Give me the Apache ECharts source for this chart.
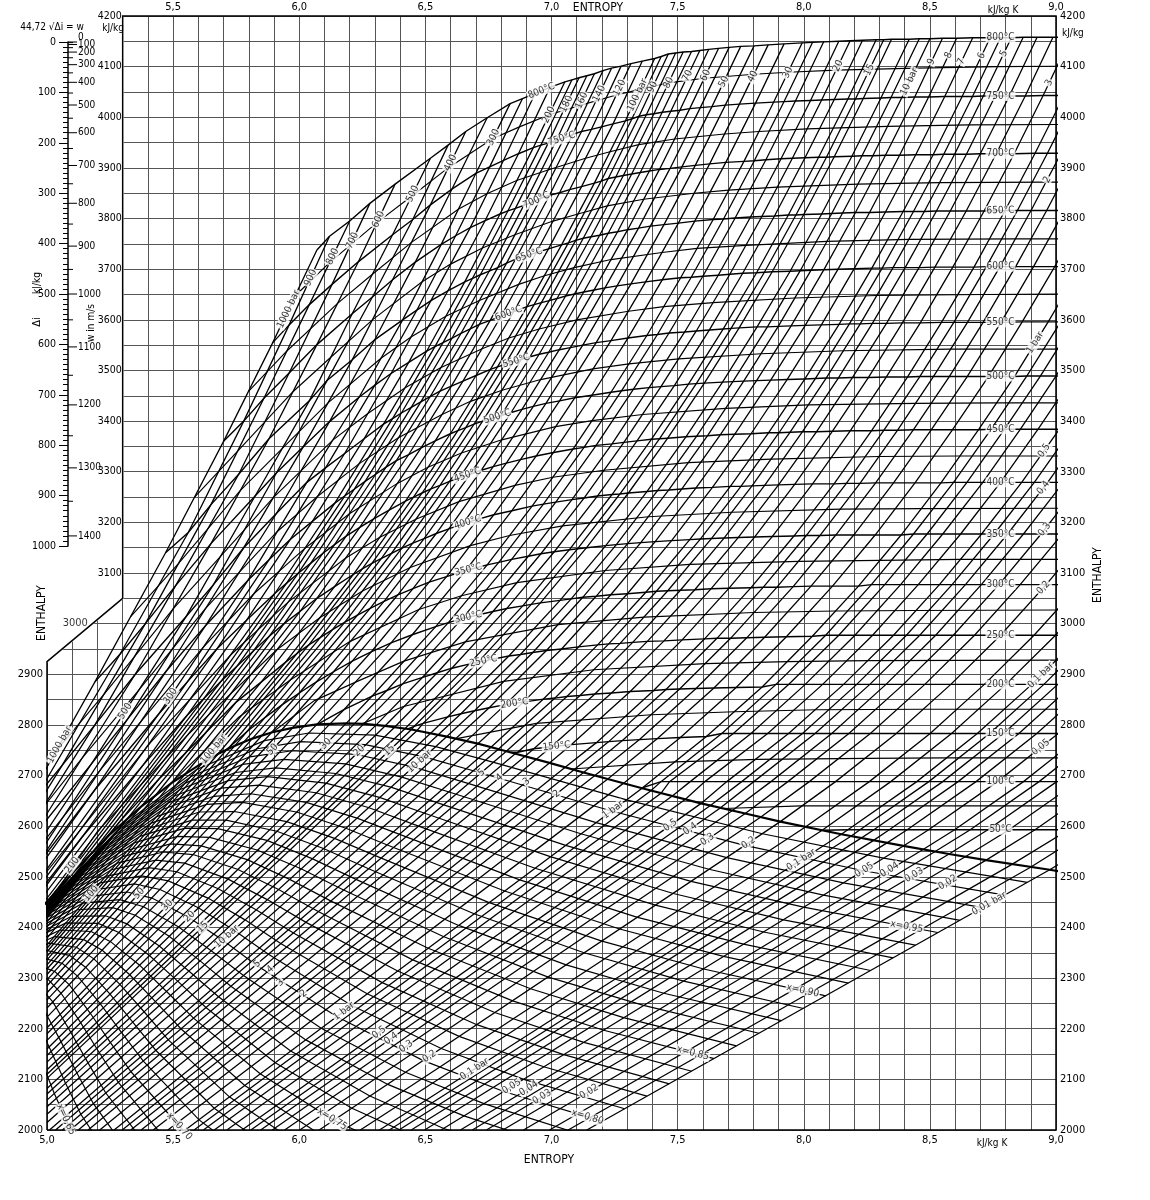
<!DOCTYPE html>
<html lang="de">
<head>
<meta charset="utf-8" />
<title>h,s-Diagramm Wasserdampf</title>
<script src="https://cdn.jsdelivr.net/npm/echarts@6/dist/echarts.min.js"></script>
<style>
  html, body { margin: 0; padding: 0; background: #fff; }
  #main { width: 1150px; height: 1200px; }
</style>
</head>
<body>
<div id="main"></div>
<script>
var _ = null;

// isotherm temperatures (°C) and their enthalpy at low pressure
var temps = [50,100,150,200,250,300,350,400,450,500,550,600,650,700,750,800];
var hIdeal = [2593,2688,2783,2880,2977,3077,3177,3279,3384,3489,3596,3705,3816,3929,4043,4159];
// point where each isotherm leaves the saturation line
var satAtT = [[8.075,2592],[7.355,2676],[6.837,2746],[6.430,2792],[6.072,2801],[5.705,2749],[5.212,2564]];

// unlabelled isotherms half way between the labelled ones: [°C, points]
var isothermsHalf = [
  [775,[[5.983,3647],[6.12,3713],[6.308,3792],[6.445,3844],[6.59,3900],[6.768,3958],[6.873,3981],[6.991,4005],[7.11,4023],[7.257,4044],[7.351,4055],[7.464,4068],[7.605,4077],[7.802,4085],[7.938,4089],[8.128,4093],[8.445,4097],[8.768,4100],[9.1,4101]]],
  [725,[[5.798,3458],[5.95,3538],[6.153,3633],[6.29,3690],[6.445,3753],[6.632,3819],[6.744,3849],[6.862,3875],[6.986,3896],[7.135,3919],[7.232,3932],[7.346,3946],[7.488,3957],[7.686,3967],[7.822,3972],[8.013,3977],[8.332,3982],[8.655,3985],[9.1,3986]]],
  [675,[[5.585,3250],[5.755,3340],[5.975,3458],[6.125,3526],[6.29,3600],[6.487,3675],[6.60,3710],[6.726,3742],[6.855,3768],[7.006,3795],[7.105,3809],[7.221,3825],[7.365,3838],[7.565,3850],[7.702,3856],[7.895,3862],[8.214,3868],[8.538,3871],[8.96,3872],[9.1,3872]]],
  [625,[[5.33,3013],[5.52,3118],[5.765,3262],[5.933,3346],[6.114,3436],[6.324,3524],[6.443,3566],[6.581,3607],[6.714,3638],[6.870,3670],[6.972,3687],[7.090,3703],[7.236,3719],[7.438,3733],[7.577,3741],[7.771,3747],[8.092,3755],[8.416,3759],[8.840,3760],[9.16,3760]]],
  [575,[[5.035,2748],[5.225,2860],[5.50,3029],[5.688,3133],[5.899,3250],[6.134,3363],[6.272,3415],[6.42,3466],[6.562,3506],[6.725,3543],[6.831,3564],[6.951,3582],[7.10,3600],[7.305,3617],[7.445,3626],[7.641,3634],[7.964,3643],[8.289,3648],[8.714,3650],[9.1,3651]]],
  [525,[[4.675,2445],[4.855,2555],[5.14,2735],[5.363,2868],[5.627,3029],[5.913,3182],[6.072,3251],[6.238,3316],[6.393,3367],[6.566,3413],[6.679,3439],[6.804,3461],[6.957,3482],[7.164,3503],[7.307,3513],[7.504,3523],[7.831,3533],[8.157,3539],[8.582,3542],[9.1,3542]]],
  [475,[[4.69,2385],[4.883,2504],[5.21,2710],[5.619,2953],[5.82,3059],[6.023,3149],[6.199,3217],[6.389,3277],[6.51,3309],[6.643,3337],[6.803,3363],[7.016,3389],[7.161,3401],[7.361,3413],[7.69,3425],[8.018,3432],[8.443,3435],[8.764,3436],[9.1,3436]]],
  [425,[[4.53,2222],[4.96,2486],[5.41,2765],[5.73,2939],[5.957,3043],[6.183,3129],[6.318,3170],[6.462,3206],[6.633,3241],[6.855,3273],[7.005,3289],[7.208,3303],[7.542,3318],[7.871,3325],[8.298,3330],[8.619,3331],[9.1,3331]]],
  [375,[[4.60,2150],[5.20,2590],[5.555,2779],[5.91,2948],[6.08,3011],[6.249,3064],[6.44,3111],[6.678,3154],[6.834,3174],[7.044,3193],[7.384,3211],[7.715,3220],[8.144,3226],[8.465,3227],[9.1,3228]]],
  [325,[[5.490,2684],[5.76,2815],[5.963,2888],[6.202,2965],[6.474,3028],[6.643,3055],[6.863,3081],[7.213,3105],[7.548,3117],[7.979,3123],[8.302,3125],[8.622,3127],[9.1,3127]]],
  [275,[[5.893,2785],[6.06,2848],[6.23,2886],[6.415,2926],[6.658,2964],[7.025,2998],[7.367,3013],[7.802,3022],[8.126,3025],[8.447,3026],[9.1,3027]]],
  [225,[[6.249,2802],[6.41,2836],[6.81,2886],[7.167,2909],[7.609,2921],[7.935,2925],[8.257,2927],[9.1,2928]]],
  [175,[[6.624,2773],[6.94,2803],[7.395,2820],[7.725,2826],[8.049,2830],[8.475,2831],[9.1,2831]]],
  [125,[[7.078,2713],[7.488,2727],[7.818,2732],[8.247,2734],[8.568,2735],[9.1,2735]]],
  [75,[[7.682,2635],[7.99,2640],[8.312,2640],[9.1,2640]]]
];

// saturation line x = 1
var satLine = [[4.928,2411],[5.106,2510],[5.246,2582],[5.372,2638],[5.493,2685],[5.616,2725],[5.679,2743],[5.745,2759],
  [5.814,2773],[5.890,2785],[5.973,2794],[6.070,2801],[6.186,2803],[6.256,2802],[6.340,2798],[6.445,2791],[6.585,2777],
  [6.708,2763],[6.821,2748],[6.992,2725],[7.127,2706],[7.359,2675],[7.593,2645],[7.768,2625],[7.907,2609],[8.149,2584],
  [8.395,2561],[8.576,2545],[8.723,2533],[8.975,2514],[9.05,2508]];

// isobars: [bar, wet end, saturation point, first temp index, s values, h values]
var isobarsHigh = [
  [1000,_,_,9,[4.47,4.88,5.19,5.47,5.70,5.895,6.07],[2280,2610,2885,3140,3360,3555,3738]],
  [900,_,_,9,[4.55,4.96,5.29,5.56,5.78,5.96,6.12],[2330,2660,2940,3180,3400,3590,3765]],
  [800,_,_,9,[4.65,5.06,5.39,5.65,5.86,6.04,6.20],[2390,2720,3000,3235,3445,3630,3795]],
  [700,_,_,9,[4.76,5.19,5.51,5.76,5.96,6.13,6.28],[2460,2800,3075,3295,3495,3670,3830]],
  [600,_,_,8,[4.45,4.93,5.35,5.65,5.88,6.07,6.235,6.38],[2200,2570,2900,3158,3365,3551,3715,3868]],
  [500,_,_,8,[4.589,5.176,5.55,5.825,6.04,6.21,6.37,6.52],[2285,2723,3013,3252,3440,3612,3768,3919]],
  [450,_,_,8,[4.75,5.32,5.66,5.91,6.11,6.29,6.45,6.59],[2380,2812,3077,3298,3480,3645,3798,3945]],
  [400,_,_,7,[4.115,4.945,5.474,5.78,6.017,6.21,6.37,6.52,6.66],[1931,2512,2907,3150,3350,3521,3679,3827,3972]],
  [350,_,_,7,[4.21,5.19,5.63,5.91,6.12,6.30,6.46,6.605,6.745],[1988,2672,2997,3218,3399,3561,3714,3858,3999]],
  [300,_,_,7,[4.473,5.442,5.796,6.03,6.237,6.41,6.563,6.70,6.836],[2151,2821,3085,3279,3447,3600,3749,3889,4027]],
  [275,_,_,7,[4.78,5.558,5.88,6.105,6.30,6.466,6.62,6.755,6.885],[2350,2886,3126,3308,3471,3619,3766,3902,4037]],
  [250,[4.80,2350],_,7,[5.140,5.675,5.964,6.180,6.364,6.522,6.678,6.81,6.935],[2579,2951,3166,3336,3494,3638,3782,3915,4047]],
  [225,[4.86,2380],_,7,[5.38,5.79,6.052,6.257,6.434,6.589,6.737,6.869,6.994],[2720,3006,3202,3365,3516,3657,3796,3928,4059]],
  [200,_,[4.928,2411],7,[5.554,5.904,6.141,6.334,6.505,6.656,6.796,6.928,7.053],[2818,3060,3238,3394,3538,3675,3809,3940,4070]]
];
var isobarsMid = [
  [190,[5.0,2450],[5.023,2465],7,[5.622,5.950,6.180,6.370,6.538,6.687,6.827,6.958,7.081],[2852,3080,3252,3405,3547,3682,3815,3945,4074]],
  [180,[5.0,2443],[5.106,2510],7,[5.69,5.995,6.219,6.405,6.570,6.718,6.857,6.987,7.109],[2886,3099,3266,3416,3555,3689,3820,3949,4078]],
  [170,[5.0,2436],[5.178,2547],7,[5.755,6.045,6.261,6.444,6.606,6.753,6.890,7.019,7.140],[2917,3119,3281,3427,3564,3696,3826,3954,4082]],
  [160,[5.0,2429],[5.246,2582],6,[5.29,5.82,6.094,6.303,6.482,6.641,6.787,6.922,7.050,7.170],[2610,2947,3139,3295,3438,3573,3703,3832,3959,4086]],
  [150,[5.0,2419],[5.311,2610],6,[5.442,5.881,6.140,6.344,6.520,6.678,6.822,6.957,7.084,7.204],[2692,2975,3156,3309,3449,3582,3712,3840,3966,4092]],
  [140,[5.0,2411],[5.372,2638],6,[5.55,5.94,6.186,6.385,6.558,6.714,6.858,6.992,7.119,7.238],[2745,3000,3173,3322,3459,3591,3720,3846,3972,4097]],
  [130,[5.0,2401],[5.432,2662],6,[5.63,6.005,6.24,6.434,6.603,6.757,6.899,7.032,7.158,7.276],[2785,3025,3190,3334,3469,3599,3726,3851,3976,4101]],
  [120,[5.0,2390],[5.493,2685],6,[5.75,6.07,6.295,6.483,6.649,6.800,6.940,7.072,7.198,7.315],[2845,3050,3207,3347,3479,3607,3733,3857,3981,4106]],
  [110,[5.0,2379],[5.553,2706],6,[5.85,6.14,6.356,6.539,6.701,6.850,6.988,7.119,7.244,7.360],[2885,3073,3224,3361,3490,3616,3740,3863,3987,4111]],
  [100,[5.0,2365],[5.616,2725],6,[5.946,6.214,6.421,6.599,6.758,6.903,7.040,7.170,7.293,7.409],[2924,3097,3242,3375,3502,3626,3748,3870,3993,4116]],
  [95,[5.0,2359],[5.648,2735],6,[5.991,6.250,6.453,6.629,6.786,6.931,7.067,7.197,7.319,7.435],[2941,3108,3250,3381,3507,3630,3752,3874,3997,4120]],
  [90,[5.0,2352],[5.679,2743],6,[6.038,6.288,6.487,6.660,6.816,6.960,7.096,7.225,7.347,7.463],[2958,3119,3258,3387,3512,3634,3757,3879,4002,4125]],
  [85,[5.0,2343],[5.712,2751],5,[5.725,6.084,6.326,6.522,6.693,6.848,6.991,7.126,7.255,7.376,7.492],[2757,2973,3129,3266,3394,3517,3638,3761,3882,4005,4127]],
  [80,[5.0,2336],[5.745,2759],5,[5.793,6.132,6.366,6.558,6.727,6.880,7.022,7.157,7.285,7.406,7.522],[2787,2988,3139,3273,3400,3522,3642,3764,3885,4007,4129]],
  [75,[5.0,2326],[5.780,2766],5,[5.865,6.181,6.407,6.596,6.763,6.915,7.056,7.191,7.318,7.439,7.555],[2815,3003,3149,3281,3405,3527,3647,3767,3888,4010,4130]],
  [70,[5.0,2318],[5.814,2773],5,[5.933,6.231,6.450,6.635,6.800,6.951,7.091,7.225,7.352,7.473,7.588],[2840,3017,3159,3288,3411,3532,3651,3771,3891,4012,4132]],
  [65,[5.0,2307],[5.852,2779],5,[6.000,6.281,6.495,6.677,6.840,6.989,7.128,7.262,7.388,7.509,7.623],[2863,3030,3168,3295,3417,3536,3655,3774,3894,4014,4134]],
  [60,[5.0,2297],[5.890,2785],5,[6.068,6.336,6.543,6.722,6.883,7.031,7.169,7.302,7.428,7.548,7.662],[2885,3044,3178,3303,3423,3541,3659,3778,3897,4017,4136]],
  [55,[5.0,2285],[5.930,2790],5,[6.136,6.391,6.593,6.769,6.928,7.075,7.212,7.345,7.470,7.590,7.704],[2905,3057,3187,3310,3429,3545,3663,3781,3899,4019,4138]],
  [50,[5.0,2271],[5.973,2794],5,[6.210,6.451,6.648,6.821,6.978,7.124,7.260,7.392,7.517,7.636,7.750],[2926,3069,3197,3317,3435,3550,3667,3785,3902,4021,4140]],
  [45,[5.0,2257],[6.020,2798],5,[6.285,6.515,6.707,6.877,7.032,7.177,7.315,7.446,7.570,7.689,7.803],[2944,3082,3206,3324,3440,3555,3671,3788,3905,4024,4141]],
  [40,[5.0,2241],[6.070,2801],5,[6.364,6.584,6.771,6.939,7.092,7.236,7.373,7.503,7.627,7.745,7.859],[2962,3093,3215,3331,3446,3559,3675,3791,3908,4026,4143]],
  [35,[5.0,2223],[6.124,2803],4,[6.177,6.448,6.660,6.843,7.008,7.160,7.303,7.439,7.568,7.691,7.809,7.922],[2830,2978,3105,3223,3338,3451,3564,3679,3795,3911,4028,4145]],
  [30,[5.0,2202],[6.186,2803],4,[6.289,6.541,6.745,6.923,7.086,7.236,7.378,7.512,7.641,7.763,7.881,7.994],[2857,2994,3116,3232,3345,3457,3569,3683,3798,3913,4030,4147]],
  [27.5,[5.0,2190],[6.220,2803],4,[6.347,6.591,6.791,6.968,7.129,7.278,7.420,7.554,7.682,7.804,7.922,8.035],[2868,3002,3121,3236,3348,3460,3571,3684,3799,3914,4031,4148]],
  [25,[5.0,2177],[6.256,2802],4,[6.410,6.646,6.842,7.017,7.177,7.325,7.466,7.600,7.728,7.850,7.967,8.079],[2881,3010,3127,3240,3352,3463,3574,3686,3801,3916,4032,4149]],
  [22,[5.0,2160],[6.305,2800],4,[6.489,6.716,6.908,7.081,7.240,7.387,7.528,7.661,7.789,7.910,8.027,8.139],[2894,3018,3133,3245,3355,3466,3576,3688,3803,3918,4033,4150]],
  [20,[5.0,2147],[6.340,2798],4,[6.547,6.768,6.958,7.129,7.287,7.434,7.574,7.707,7.834,7.955,8.071,8.184],[2903,3024,3138,3248,3358,3468,3578,3690,3804,3919,4034,4151]],
  [18,[5.0,2134],[6.379,2796],4,[6.605,6.823,7.011,7.182,7.339,7.487,7.626,7.758,7.884,8.005,8.121,8.233],[2912,3030,3142,3252,3361,3470,3580,3692,3805,3920,4035,4152]],
  [16,[5.0,2119],[6.420,2793],4,[6.673,6.886,7.071,7.240,7.396,7.543,7.681,7.813,7.939,8.059,8.175,8.287],[2920,3035,3146,3255,3364,3473,3582,3693,3807,3921,4036,4153]],
  [15,[5.0,2110],[6.445,2791],3,[6.455,6.709,6.920,7.104,7.271,7.428,7.574,7.712,7.844,7.969,8.090,8.205,8.317],[2797,2924,3038,3148,3256,3365,3474,3583,3694,3807,3921,4036,4153]],
  [14,[5.0,2102],[6.467,2789],3,[6.491,6.748,6.956,7.139,7.305,7.460,7.606,7.744,7.875,8.000,8.121,8.236,8.348],[2803,2928,3041,3150,3258,3366,3475,3584,3695,3808,3922,4037,4154]],
  [12,[5.0,2082],[6.522,2784],3,[6.589,6.831,7.034,7.215,7.379,7.533,7.678,7.815,7.946,8.071,8.191,8.306,8.418],[2816,2936,3046,3154,3261,3369,3477,3586,3696,3809,3923,4038,4154]],
  [11,[5.0,2071],[6.552,2781],3,[6.641,6.877,7.078,7.257,7.421,7.575,7.719,7.856,7.986,8.111,8.231,8.346,8.458],[2822,2939,3049,3156,3263,3370,3478,3586,3697,3810,3924,4039,4155]],
  [10,[5.0,2059],[6.585,2777],3,[6.695,6.926,7.124,7.302,7.465,7.618,7.762,7.899,8.029,8.154,8.274,8.389,8.500],[2828,2943,3052,3158,3264,3371,3479,3587,3698,3811,3924,4039,4155]]
];
var isobarsLow = [
  [9,[5.0,2046],[6.621,2773],3,[6.753,6.980,7.177,7.354,7.517,7.669,7.813,7.950,8.080,8.205,8.324,8.440,8.550],[2834,2947,3054,3160,3266,3373,3480,3588,3699,3812,3925,4040,4156]],
  [8,[5.0,2031],[6.662,2768],3,[6.817,7.040,7.235,7.411,7.573,7.726,7.869,8.006,8.136,8.261,8.380,8.495,8.606],[2840,2950,3057,3162,3268,3374,3481,3589,3700,3812,3925,4040,4156]],
  [7,[5.0,2015],[6.708,2763],3,[6.888,7.107,7.301,7.476,7.638,7.791,7.934,8.070,8.200,8.324,8.444,8.559,8.670],[2845,2954,3059,3164,3269,3375,3482,3590,3701,3813,3926,4041,4157]],
  [6,[5.010,2000],[6.760,2756],3,[6.968,7.183,7.374,7.548,7.709,7.861,8.004,8.140,8.270,8.394,8.513,8.628,8.739],[2851,2958,3062,3166,3271,3377,3483,3591,3702,3814,3926,4041,4157]],
  [5.5,[5.034,2000],[6.789,2752],3,[7.014,7.227,7.416,7.590,7.751,7.902,8.046,8.181,8.311,8.435,8.555,8.669,8.780],[2853,2960,3064,3167,3271,3377,3484,3592,3702,3814,3927,4041,4157]],
  [5,[5.061,2000],[6.821,2748],3,[7.061,7.272,7.461,7.634,7.795,7.946,8.089,8.224,8.354,8.478,8.598,8.712,8.823],[2856,2961,3065,3168,3272,3378,3485,3592,3703,3814,3927,4042,4157]],
  [4.5,[5.092,2000],[6.856,2743],2,[6.866,7.113,7.322,7.511,7.684,7.845,7.995,8.137,8.272,8.402,8.526,8.645,8.759,8.870],[2746,2858,2963,3066,3169,3273,3379,3485,3593,3703,3815,3927,4042,4158]],
  [4,[5.124,2000],[6.895,2738],2,[6.930,7.172,7.380,7.568,7.740,7.900,8.051,8.193,8.328,8.457,8.581,8.700,8.815,8.925],[2753,2861,2965,3067,3170,3274,3379,3486,3593,3703,3815,3928,4042,4158]],
  [3.5,[5.163,2000],[6.940,2732],2,[6.999,7.238,7.446,7.633,7.805,7.964,8.114,8.256,8.391,8.520,8.644,8.763,8.878,8.988],[2757,2863,2966,3069,3171,3275,3380,3486,3594,3704,3815,3928,4042,4158]],
  [3,[5.209,2000],[6.992,2725],2,[7.078,7.312,7.518,7.704,7.875,8.035,8.185,8.327,8.462,8.591,8.715,8.834,8.949,9.059],[2761,2866,2968,3070,3172,3276,3381,3487,3594,3704,3815,3928,4043,4158]],
  [2.5,[5.266,2000],[7.053,2716],2,[7.178,7.405,7.607,7.791,7.961,8.120,8.269,8.411,8.546,8.675,8.798,8.917,9.032],[2765,2868,2970,3071,3173,3276,3381,3487,3595,3704,3816,3929,4043]],
  [2.25,[5.298,2000],[7.088,2711],2,[7.227,7.454,7.656,7.840,8.010,8.169,8.318,8.460,8.595,8.724,8.847,8.966,9.081],[2767,2870,2971,3072,3174,3277,3382,3488,3595,3705,3816,3929,4043]],
  [2,[5.332,2000],[7.127,2706],2,[7.281,7.508,7.710,7.894,8.064,8.223,8.372,8.514,8.649,8.778,8.901,9.020],[2769,2871,2971,3072,3174,3277,3382,3488,3595,3705,3816,3929]],
  [1.75,[5.373,2000],[7.172,2700],2,[7.349,7.573,7.774,7.958,8.127,8.285,8.435,8.577,8.711,8.840,8.963,9.082],[2771,2872,2972,3073,3175,3278,3383,3488,3595,3705,3816,3929]],
  [1.5,[5.421,2000],[7.223,2693],2,[7.420,7.644,7.845,8.029,8.198,8.356,8.506,8.648,8.782,8.911,9.034],[2773,2873,2973,3074,3175,3278,3383,3488,3595,3705,3816]],
  [1.25,[5.479,2000],[7.286,2685],2,[7.511,7.732,7.931,8.114,8.283,8.441,8.590,8.732,8.866,8.995,9.118],[2775,2874,2974,3074,3175,3278,3383,3488,3596,3705,3816]],
  [1,[5.548,2000],[7.359,2675],1,[7.361,7.614,7.835,8.034,8.217,8.386,8.544,8.693,8.835,8.969,9.098],[2676,2777,2875,2975,3074,3175,3278,3383,3488,3596,3705]]
];
// below 1 bar the enthalpy of each isotherm is taken from hIdeal
var isobarsVac = [
  [0.9,[5.583,2000],[7.394,2670],1,[7.434,7.675,7.890,8.087,8.268,8.435,8.594,8.743,8.884,9.019],_],
  [0.8,[5.620,2000],[7.434,2665],1,[7.468,7.721,7.940,8.139,8.321,8.489,8.647,8.796,8.938,9.073],_],
  [0.7,[5.663,2000],[7.480,2660],1,[7.550,7.791,8.006,8.203,8.384,8.551,8.710,8.859,9.000,9.135],_],
  [0.6,[5.713,2000],[7.531,2653],1,[7.608,7.857,8.075,8.273,8.454,8.622,8.780,8.929,9.071],_],
  [0.5,[5.773,2000],[7.593,2645],1,[7.695,7.940,8.158,8.356,8.538,8.705,8.864,9.013],_],
  [0.45,[5.808,2000],[7.630,2641],1,[7.754,7.995,8.210,8.407,8.588,8.755,8.914,9.063],_],
  [0.4,[5.847,2000],[7.669,2636],1,[7.802,8.045,8.262,8.460,8.641,8.808,8.967,9.117],_],
  [0.35,[5.893,2000],[7.717,2631],1,[7.870,8.111,8.326,8.523,8.704,8.871,9.030],_],
  [0.3,[5.942,2000],[7.768,2625],1,[7.937,8.179,8.395,8.593,8.774,8.941,9.100],_],
  [0.25,[6.002,2000],[7.830,2618],1,[8.022,8.264,8.480,8.677,8.858,9.025],_],
  [0.2,[6.079,2000],[7.907,2609],1,[8.126,8.367,8.583,8.780,8.961,9.128],_],
  [0.15,[6.177,2000],[8.008,2599],1,[8.260,8.501,8.716,8.913,9.094],_],
  [0.125,[6.242,2000],[8.073,2592],1,[8.345,8.586,8.801,8.998,9.179],_],
  [0.1,[6.318,2000],[8.149,2584],0,[8.175,8.448,8.688,8.904,9.100],_],
  [0.09,[6.357,2000],[8.187,2580],0,[8.223,8.496,8.737,8.952,9.149],_],
  [0.08,[6.395,2000],[8.229,2577],0,[8.278,8.551,8.792,9.007],_],
  [0.07,[6.444,2000],[8.277,2572],0,[8.339,8.612,8.853,9.068],_],
  [0.06,[6.497,2000],[8.330,2567],0,[8.410,8.683,8.924,9.139],_],
  [0.05,[6.562,2000],[8.395,2561],0,[8.495,8.768,9.009],_],
  [0.04,[6.639,2000],[8.473,2554],0,[8.598,8.871,9.112],_],
  [0.035,[6.686,2000],[8.521,2550],0,[8.660,8.933,9.174],_],
  [0.03,[6.742,2000],[8.576,2545],0,[8.730,9.003],_],
  [0.025,[6.807,2000],[8.642,2540],0,[8.814,9.087],_],
  [0.02,[6.889,2000],[8.723,2533],0,[8.917,9.190],_],
  [0.015,[6.992,2000],[8.827,2525],0,[9.050],_],
  [0.0125,[7.066,2000],[8.899,2519],0,[9.135],_],
  [0.01,[7.140,2000],[8.975,2514],0,[9.237],_]
];

// lines of constant dryness x, read at a few pressures
var qualX = [0.65,0.66,0.67,0.68,0.69,0.70,0.71,0.72,0.73,0.74,0.75,0.76,0.77,0.78,0.79,0.80,0.81,0.82,0.83,0.84,
  0.85,0.86,0.87,0.88,0.89,0.90,0.91,0.92,0.93,0.94,0.95,0.96,0.97,0.98,0.99];
var qAt001 = [[5.871,5.959,6.048,6.137,6.226,6.314,6.403,6.492,6.580,6.669,6.758,6.846,6.935,7.024,7.112,7.201,7.290,7.378,7.467,7.556,7.645,7.733,7.822,7.911,7.999,8.088,8.177,8.265,8.354,8.443,8.531,8.620,8.709,8.797,8.886],
  [1644,1669,1694,1719,1744,1768,1793,1818,1843,1868,1893,1917,1942,1967,1992,2017,2042,2067,2091,2116,2141,2166,2191,2216,2240,2265,2290,2315,2340,2365,2390,2414,2439,2464,2489]];
var qAt005 = [[5.624,5.703,5.782,5.861,5.940,6.019,6.098,6.178,6.257,6.336,6.415,6.494,6.573,6.653,6.732,6.811,6.890,6.969,7.048,7.128,7.207,7.286,7.365,7.445,7.524,7.603,7.682,7.761,7.841,7.920,7.999,8.078,8.157,8.237,8.316],
  [1713,1737,1761,1786,1810,1834,1858,1882,1907,1931,1955,1979,2003,2028,2052,2076,2100,2125,2149,2173,2197,2222,2246,2270,2294,2318,2343,2367,2391,2415,2440,2464,2488,2512,2537]];
var qAt02 = [[5.431,5.502,5.572,5.643,5.714,5.785,5.855,5.926,5.997,6.068,6.138,6.209,6.280,6.351,6.421,6.492,6.563,6.634,6.704,6.775,6.846,6.917,6.987,7.058,7.129,7.200,7.270,7.341,7.412,7.483,7.553,7.624,7.695,7.766,7.836],
  [1784,1807,1831,1854,1878,1902,1925,1949,1972,1996,2019,2043,2067,2090,2114,2137,2161,2185,2208,2232,2255,2279,2302,2326,2350,2373,2397,2420,2444,2467,2491,2515,2538,2562,2585]];
var qAt1 = [[5.239,5.300,5.360,5.421,5.481,5.542,5.603,5.663,5.724,5.784,5.845,5.905,5.966,6.026,6.087,6.148,6.208,6.269,6.329,6.390,6.450,6.511,6.571,6.632,6.693,6.753,6.814,6.874,6.935,6.995,7.056,7.116,7.177,7.238,7.298],
  [1885,1907,1930,1953,1975,1998,2020,2043,2065,2088,2111,2133,2156,2178,2201,2224,2246,2269,2291,2314,2336,2359,2382,2404,2427,2449,2472,2494,2517,2540,2562,2585,2607,2630,2652]];
var qAt5 = [[5.085,5.134,5.184,5.233,5.283,5.333,5.382,5.432,5.481,5.531,5.581,5.630,5.680,5.729,5.779,5.829,5.878,5.928,5.977,6.027,6.077,6.126,6.176,6.225,6.275,6.325,6.374,6.424,6.473,6.523,6.573,6.622,6.672,6.721,6.771],
  [2010,2031,2052,2073,2094,2115,2136,2157,2178,2200,2221,2242,2263,2284,2305,2326,2347,2368,2389,2410,2431,2452,2474,2495,2516,2537,2558,2579,2600,2621,2642,2663,2684,2705,2726]];
var qAt10 = [[5.029,5.073,5.118,5.162,5.207,5.251,5.295,5.340,5.384,5.429,5.473,5.518,5.562,5.607,5.651,5.696,5.740,5.785,5.829,5.873,5.918,5.962,6.007,6.051,6.096,6.140,6.185,6.229,6.274,6.318,6.363,6.407,6.452,6.496,6.541],
  [2072,2093,2113,2133,2153,2173,2193,2213,2234,2254,2274,2294,2314,2334,2354,2375,2395,2415,2435,2455,2475,2495,2516,2536,2556,2576,2596,2616,2637,2657,2677,2697,2717,2737,2757]];
var qAt20 = [[4.977,5.016,5.055,5.093,5.132,5.171,5.210,5.249,5.288,5.327,5.366,5.405,5.444,5.483,5.522,5.561,5.600,5.638,5.677,5.716,5.755,5.794,5.833,5.872,5.911,5.950,5.989,6.028,6.066,6.105,6.144,6.183,6.222,6.261,6.300],
  [2137,2156,2175,2194,2213,2231,2250,2269,2288,2307,2326,2345,2364,2383,2401,2420,2439,2458,2477,2496,2515,2534,2553,2572,2590,2609,2628,2647,2666,2685,2704,2723,2742,2761,2780]];
var qAt40 = [[4.925,4.957,4.990,5.023,5.056,5.088,5.121,5.154,5.186,5.219,5.252,5.285,5.317,5.350,5.383,5.416,5.448,5.481,5.514,5.546,5.579,5.612,5.645,5.677,5.710,5.743,5.776,5.808,5.841,5.874,5.907,5.939,5.972,6.005,6.038],
  [2201,2218,2235,2253,2270,2287,2304,2321,2338,2355,2372,2390,2407,2424,2441,2458,2475,2492,2510,2527,2544,2561,2578,2595,2612,2629,2647,2664,2681,2698,2715,2732,2749,2767,2784]];
var qAt60 = [[4.888,4.917,4.946,4.974,5.003,5.031,5.060,5.089,5.117,5.146,5.175,5.203,5.232,5.261,5.289,5.318,5.346,5.375,5.404,5.432,5.461,5.490,5.518,5.547,5.575,5.604,5.633,5.661,5.690,5.719,5.747,5.776,5.804,5.833,5.862],
  [2235,2251,2266,2282,2298,2313,2329,2345,2361,2376,2392,2408,2423,2439,2455,2470,2486,2502,2518,2533,2549,2565,2580,2596,2612,2628,2643,2659,2675,2690,2706,2722,2737,2753,2769]];
var qAt100 = [[4.827,4.849,4.872,4.894,4.917,4.939,4.962,4.984,5.007,5.030,5.052,5.075,5.097,5.120,5.142,5.165,5.187,5.210,5.232,5.255,5.278,5.300,5.323,5.345,5.368,5.390,5.413,5.435,5.458,5.480,5.503,5.526,5.548,5.571,5.593],
  [2264,2277,2290,2303,2316,2330,2343,2356,2369,2382,2395,2409,2422,2435,2448,2461,2474,2488,2501,2514,2527,2540,2553,2567,2580,2593,2606,2619,2633,2646,2659,2672,2685,2698,2712]];
var qAt150 = [[4.742,4.758,4.775,4.791,4.807,4.823,4.840,4.856,4.872,4.888,4.905,4.921,4.937,4.953,4.970,4.986,5.002,5.018,5.035,5.051,5.067,5.083,5.100,5.116,5.132,5.148,5.165,5.181,5.197,5.213,5.230,5.246,5.262,5.278,5.295],
  [2260,2270,2280,2290,2300,2310,2320,2330,2340,2350,2360,2370,2380,2390,2400,2410,2420,2430,2440,2450,2460,2470,2480,2490,2500,2510,2520,2530,2540,2550,2560,2570,2580,2590,2600]];
var qAt200 = [[4.607,4.616,4.626,4.635,4.644,4.653,4.662,4.671,4.680,4.690,4.699,4.708,4.717,4.726,4.735,4.744,4.753,4.763,4.772,4.781,4.790,4.799,4.808,4.817,4.827,4.836,4.845,4.854,4.863,4.872,4.881,4.890,4.900,4.909,4.918],
  [2207,2212,2218,2224,2230,2236,2242,2248,2253,2259,2265,2271,2277,2283,2288,2294,2300,2306,2312,2318,2324,2329,2335,2341,2347,2353,2359,2365,2370,2376,2382,2388,2394,2400,2405]];

// line labels: [text, line key, entropy where the label sits]
var topIsobarLabels = [['1000 bar',1000,5.958],['900',900,6.045],['800',800,6.132],['700',700,6.211],['600',600,6.314],
  ['500',500,6.45],['400',400,6.60],['300',300,6.77],['200',200,6.99],['180',180,7.06],['160',160,7.12],['140',140,7.19],
  ['120',120,7.27],['100 bar',100,7.341],['90',90,7.401],['80',80,7.464],['70',70,7.54],['60',60,7.611],['50',50,7.683],
  ['40',40,7.798],['30',30,7.937],['20',20,8.136],['15',15,8.26],['10 bar',10,8.419],['9',9,8.506],['8',8,8.574],
  ['7',7,8.625],['6',6,8.705],['5',5,8.793],['3',3,8.973]];
var rightIsobarLabels = [['2',2,8.965],['1 bar',1,8.918],['0,5',0.5,8.953],['0,4',0.4,8.95],['0,3',0.3,8.955],
  ['0,2',0.2,8.95],['0,1 bar',0.1,8.94],['0,05',0.05,8.94]];
var satIsobarLabels = [['1000 bar',1000,5.05],['500',500,5.31],['300',300,5.49],['100 bar',100,5.661],['50',50,5.894],
  ['30',30,6.106],['20',20,6.238],['15',15,6.357],['10 bar',10,6.477],['5',5,6.722],['4',4,6.794],['3',3,6.901],
  ['2',2,7.02],['1 bar',1,7.244],['0,5',0.5,7.471],['0,4',0.4,7.55],['0,3',0.3,7.618],['0,2',0.2,7.781],
  ['0,1 bar',0.1,7.99],['0,05',0.05,8.24],['0,04',0.04,8.34],['0,03',0.03,8.437],['0,02',0.02,8.571],['0,01 bar',0.01,8.735]];
var wetIsobarLabels = [['200',200,5.10],['100',100,5.175],['50',50,5.365],['30',30,5.477],['20',20,5.565],['15',15,5.617],
  ['10 bar',10,5.713],['5',5,5.833],['4',4,5.885],['3',3,5.925],['2',2,6.017],['1 bar',1,6.177],['0,5',0.5,6.316],
  ['0,4',0.4,6.364],['0,3',0.3,6.424],['0,2',0.2,6.516],['0,1 bar',0.1,6.695],['0,05',0.05,6.842],['0,04',0.04,6.91],
  ['0,03',0.03,6.962],['0,02',0.02,7.149]];
var midTempLabels = [['800°C',800,6.96],['750°C',750,7.04],['700°C',700,6.94],['650°C',650,6.91],['600°C',600,6.83],
  ['550°C',550,6.86],['500°C',500,6.785],['450°C',450,6.667],['400°C',400,6.668],['350°C',350,6.67],['300°C',300,6.67],
  ['250°C',250,6.73],['200°C',200,6.853],['150°C',150,7.02]];
var rightTempLabels = [['800°C',800,8.78],['750°C',750,8.78],['700°C',700,8.78],['650°C',650,8.78],['600°C',600,8.78],
  ['550°C',550,8.78],['500°C',500,8.78],['450°C',450,8.78],['400°C',400,8.78],['350°C',350,8.78],['300°C',300,8.78],
  ['250°C',250,8.78],['200°C',200,8.78],['150°C',150,8.78],['100°C',100,8.78],['50°C',50,8.78]];
var qualityLabels = [['x=0,65',0.65,5.075],['x=0,70',0.70,5.525],['x=0,75',0.75,6.13],['x=0,80',0.80,7.143],
  ['x=0,85',0.85,7.56],['x=0,90',0.90,7.996],['x=0,95',0.95,8.408]];

// outline of the chart field (upper left corner cut off for the scale)
var fieldOutline = [[5.0,2000],[9.0,2000],[9.0,4200],[5.3,4200],[5.3,3050],[5.0,2925],[5.0,2000]];
var cutCorner = [[5.0,2925],[5.3,3050],[5.3,4200],[5.0,4200]];

// velocity scale: w in m/s against enthalpy drop in kJ/kg
var wTicks = [[0,0],[100,5],[200,20],[300,45],[400,80],[500,125],[600,180],[700,245],[800,320],[900,405],
  [1000,500],[1100,605],[1200,720],[1300,845],[1400,980]];
var wMinor = [1.25,11.25,31.25,61.25,101.25,151.25,211.25,281.25,361.25,451.25,551.25,661.25,781.25,911.25];

// ---------------------------------------------------------------
var FONT = "'Liberation Sans Narrow','DejaVu Sans Condensed','Liberation Sans',sans-serif";
var GL = 47, GT = 16, GW = 1009, GH = 1114;
var KX = GW / 4, KY = GH / 2200;

var allRows = isobarsHigh.concat(isobarsMid, isobarsLow, isobarsVac);
function rowValue(r, j) {
  var k = j - r[3];
  if (k < 0 || k >= r[4].length || r[4][k] == null) return null;
  return [r[4][k], r[5] ? r[5][k] : hIdeal[j]];
}
var isobarMap = {}, isothermMap = {}, qualityMap = {};
var isobarData = allRows.map(function (r) {
  var pts = [];
  if (r[1]) pts.push(r[1]);
  if (r[2]) pts.push(r[2]);
  for (var j = r[3]; j < temps.length; j++) { var v = rowValue(r, j); if (v) pts.push(v); }
  isobarMap[String(r[0])] = pts;
  return { coords: pts };
});
var isothermData = temps.map(function (T, j) {
  var pts = [];
  if (satAtT[j]) pts.push(satAtT[j]);
  allRows.forEach(function (r) { var v = rowValue(r, j); if (v) pts.push(v); });
  isothermMap[String(T)] = pts;
  return { coords: pts };
});
var halfData = isothermsHalf.map(function (t) { return { coords: t[1] }; });
var qualCols = [qAt001, qAt005, qAt02, qAt1, qAt5, qAt10, qAt20, qAt40, qAt60, qAt100, qAt150, qAt200];
var qualityData = qualX.map(function (x, i) {
  var pts = qualCols.map(function (c) { return [c[0][i], c[1][i]]; });
  qualityMap[String(x)] = pts;
  return { coords: pts };
});

function pointOn(coords, s) {
  for (var i = 0; i < coords.length - 1; i++) {
    var a = coords[i], b = coords[i + 1];
    if (a[0] !== b[0] && (a[0] - s) * (b[0] - s) <= 0) {
      var t = (s - a[0]) / (b[0] - a[0]);
      var dx = (b[0] - a[0]) * KX, dy = (b[1] - a[1]) * KY;
      if (dx < 0) { dx = -dx; dy = -dy; }
      return { h: a[1] + t * (b[1] - a[1]), rot: Math.atan2(dy, dx) * 180 / Math.PI };
    }
  }
  return null;
}
var labelItems = [];
function addLabels(list, map) {
  list.forEach(function (l) {
    var line = map[String(l[1])];
    if (!line) return;
    var p = pointOn(line, l[2]);
    if (!p) return;
    labelItems.push({ name: l[0], value: [l[2], p.h], label: { rotate: p.rot } });
  });
}
addLabels(topIsobarLabels, isobarMap);
addLabels(rightIsobarLabels, isobarMap);
addLabels(satIsobarLabels, isobarMap);
addLabels(wetIsobarLabels, isobarMap);
addLabels(midTempLabels, isothermMap);
addLabels(rightTempLabels, isothermMap);
addLabels(qualityLabels, qualityMap);

function commaFmt(v) {
  var k = Math.round(v * 10);
  return k % 5 === 0 ? (k / 10).toFixed(1).replace('.', ',') : '';
}
var gridLine = { show: true, lineStyle: { color: '#555', width: 1 } };
var axisFont = { fontSize: 11, color: '#000', fontFamily: FONT };
var lineBase = { type: 'lines', coordinateSystem: 'cartesian2d', xAxisIndex: 0, yAxisIndex: 0, polyline: true,
  silent: true, clip: true, z: 2 };
function txt(x, y, text, size, align, rot) {
  return { type: 'text', x: x, y: y, z: 100, rotation: rot || 0,
    style: { text: text, font: size + 'px ' + FONT, fill: '#000', align: align || 'center', verticalAlign: 'middle' } };
}

var option = {
  animation: false,
  backgroundColor: '#fff',
  grid: [
    { left: GL, top: GT, width: GW, height: GH },
    { left: GL + 0.3 * KX, top: GT, width: 1, height: GH },
    { left: 68, top: 42, width: 1, height: 504 }
  ],
  xAxis: [
    { gridIndex: 0, type: 'value', min: 5, max: 9, interval: 0.1, position: 'bottom',
      axisLine: { show: false }, axisTick: { show: false }, splitLine: gridLine,
      axisLabel: Object.assign({ margin: 5, formatter: commaFmt }, axisFont) },
    { gridIndex: 0, type: 'value', min: 5, max: 9, interval: 0.1, position: 'top',
      axisLine: { show: false }, axisTick: { show: false }, splitLine: { show: false },
      axisLabel: Object.assign({ margin: 3, formatter: function (v) { return v < 5.05 ? '' : commaFmt(v); } }, axisFont) },
    { gridIndex: 1, type: 'value', min: 0, max: 1, show: false },
    { gridIndex: 2, type: 'value', min: 0, max: 1, show: false }
  ],
  yAxis: [
    { gridIndex: 0, type: 'value', min: 2000, max: 4200, interval: 50, position: 'left',
      axisLine: { show: false }, axisTick: { show: false }, splitLine: gridLine,
      axisLabel: Object.assign({ margin: 4, formatter: function (v) { return (v % 100 === 0 && v <= 2900) ? String(v) : ''; } }, axisFont) },
    { gridIndex: 0, type: 'value', min: 2000, max: 4200, interval: 50, position: 'right',
      axisLine: { show: false }, axisTick: { show: false }, splitLine: { show: false },
      axisLabel: Object.assign({ margin: 4, formatter: function (v) { return v % 100 === 0 ? String(v) : ''; } }, axisFont) },
    { gridIndex: 1, type: 'value', min: 2000, max: 4200, interval: 100, position: 'left', z: 10,
      axisLine: { show: false }, axisTick: { show: false }, splitLine: { show: false },
      axisLabel: { margin: 1, fontSize: 10.5, color: '#000', fontFamily: FONT,
        formatter: function (v) { return v >= 3100 ? String(v) : ''; } } },
    { gridIndex: 2, type: 'value', min: 0, max: 1000, interval: 100, inverse: true, position: 'left', z: 10,
      axisLine: { show: true, lineStyle: { color: '#000', width: 1.5 } },
      axisTick: { show: true, length: 9, lineStyle: { color: '#000' } },
      minorTick: { show: true, splitNumber: 10, length: 5, lineStyle: { color: '#000' } },
      splitLine: { show: false },
      axisLabel: { margin: 12, fontSize: 10.5, color: '#000', fontFamily: FONT, formatter: function (v) { return String(v); } } }
  ],
  series: [
    { type: 'custom', xAxisIndex: 0, yAxisIndex: 0, z: 1, silent: true, data: [0],
      renderItem: function (params, api) {
        return { type: 'polygon', shape: { points: cutCorner.map(function (p) { return api.coord(p); }) },
          style: { fill: '#fff', stroke: '#fff', lineWidth: 2 } };
      } },
    Object.assign({}, lineBase, { name: 'quality', data: qualityData, lineStyle: { color: '#000', width: 1.2, opacity: 1 } }),
    Object.assign({}, lineBase, { name: 'isobars', data: isobarData, lineStyle: { color: '#000', width: 1.3, opacity: 1 } }),
    Object.assign({}, lineBase, { name: 'isotherms half', data: halfData, lineStyle: { color: '#000', width: 1.15, opacity: 1 } }),
    Object.assign({}, lineBase, { name: 'isotherms', data: isothermData, lineStyle: { color: '#000', width: 1.4, opacity: 1 } }),
    Object.assign({}, lineBase, { name: 'saturation', data: [{ coords: satLine }], lineStyle: { color: '#000', width: 2.2, opacity: 1 } }),
    { type: 'custom', xAxisIndex: 0, yAxisIndex: 0, z: 3, silent: true, clip: false, data: [0],
      renderItem: function (params, api) {
        return { type: 'polyline', shape: { points: fieldOutline.map(function (p) { return api.coord(p); }) },
          style: { fill: null, stroke: '#000', lineWidth: 1.5 } };
      } },
    { type: 'scatter', xAxisIndex: 0, yAxisIndex: 0, z: 5, silent: true, clip: false, symbolSize: 1,
      itemStyle: { color: 'rgba(0,0,0,0)' },
      label: { show: true, position: 'inside', formatter: '{b}', fontSize: 10, color: '#000', fontFamily: FONT,
        backgroundColor: '#fff', padding: [0, 1] },
      data: labelItems },
    { type: 'scatter', xAxisIndex: 0, yAxisIndex: 0, z: 5, silent: true, clip: false, symbolSize: 1,
      itemStyle: { color: 'rgba(0,0,0,0)' },
      label: Object.assign({ show: true, position: 'left', distance: 4, formatter: '{b}' }, axisFont),
      data: [{ name: '3000', value: [5.18, 3000] }] },
    { type: 'custom', xAxisIndex: 3, yAxisIndex: 3, z: 10, silent: true, clip: false,
      data: wTicks.map(function (t) { return [0, t[1], t[0], 1]; }).concat(wMinor.map(function (d) { return [0, d, 0, 0]; })),
      renderItem: function (params, api) {
        var p = api.coord([0, api.value(1)]);
        var major = api.value(3) === 1;
        var kids = [{ type: 'line', shape: { x1: p[0], y1: p[1], x2: p[0] + (major ? 9 : 5), y2: p[1] },
          style: { stroke: '#000', lineWidth: 1 } }];
        if (major) {
          var w = api.value(2);
          kids.push({ type: 'text', x: p[0] + 10, y: p[1],
            style: { text: String(w), font: '10px ' + FONT, fill: '#000', align: 'left',
              verticalAlign: w === 0 ? 'bottom' : 'middle' } });
        }
        return { type: 'group', children: kids };
      } }
  ],
  graphic: [
    txt(598, 8, 'ENTROPY', 12),
    txt(549, 1160, 'ENTROPY', 12),
    txt(42, 613, 'ENTHALPY', 12, 'center', Math.PI / 2),
    txt(1098, 575, 'ENTHALPY', 12, 'center', Math.PI / 2),
    txt(1003, 10, 'kJ/kg K', 10),
    txt(992, 1143, 'kJ/kg K', 10),
    txt(1062, 33, 'kJ/kg', 10, 'left'),
    txt(124, 28, 'kJ/kg', 10, 'right'),
    txt(52, 27, '44,72 √Δi = w', 10),
    txt(37, 283, 'kJ/kg', 10, 'center', Math.PI / 2),
    txt(37, 322, 'Δi', 11, 'center', Math.PI / 2),
    txt(91, 323, 'w in m/s', 10, 'center', Math.PI / 2)
  ]
};

var chart = echarts.init(document.getElementById('main'));
chart.setOption(option);
</script>
</body>
</html>
